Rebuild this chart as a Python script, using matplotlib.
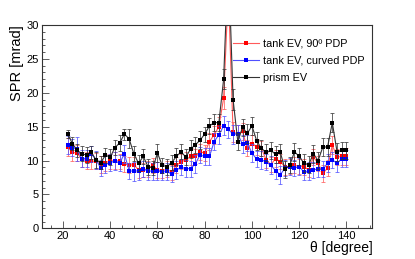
import numpy as np
import matplotlib.pyplot as plt
from matplotlib.ticker import MultipleLocator

plt.rcParams['font.family'] = ['Liberation Sans', 'DejaVu Sans']

# polar angle bins [degree]
theta = [22, 24, 26, 28, 30, 32, 34, 36, 38, 40, 42, 44, 46, 48, 50, 52, 54, 56, 58, 60,
         62, 64, 66, 68, 70, 72, 74, 76, 78, 80, 82, 84, 86, 88, 90, 92, 94, 96, 98, 100,
         102, 104, 106, 108, 110, 112, 114, 116, 118, 120, 122, 124, 126, 128, 130, 132, 134, 136, 138, 140]

# tank EV, 90 deg PDP
spr_tank90 = [12.0, 11.2, 11.1, 10.2, 10.0, 9.9, 9.9, 9.4, 9.7, 9.9, 10.0, 9.9, 9.5, 9.3, 9.4, 8.6, 8.6, 8.8, 9.3, 8.6,
              8.5, 8.7, 8.3, 9.3, 9.8, 10.1, 10.6, 10.6, 11.3, 11.1, 12.8, 13.8, 15.0, 19.2, 35.0, 14.2, 13.9, 14.3, 11.8, 12.5,
              12.0, 11.8, 10.1, 9.4, 10.3, 9.8, 9.1, 9.1, 9.3, 9.1, 9.1, 8.6, 10.5, 9.6, 8.1, 8.9, 12.3, 10.5, 10.6, 10.6]
err_tank90 = [1.3, 1.2, 1.2, 1.1, 1.2, 1.1, 1.2, 1.3, 1.2, 1.1, 1.2, 1.1, 1.2, 1.2, 1.1, 1.2, 1.1, 1.2, 1.1, 1.2,
              1.1, 1.2, 1.1, 1.2, 1.1, 1.2, 1.2, 1.1, 1.2, 1.2, 1.3, 1.3, 1.4, 1.6, 2.5, 1.5, 1.3, 1.3, 1.2, 1.2,
              1.2, 1.1, 1.2, 1.1, 1.2, 1.1, 1.2, 1.1, 1.2, 1.1, 1.2, 1.1, 1.2, 1.1, 1.2, 1.2, 1.3, 1.2, 1.2, 1.2]

# tank EV, curved PDP
spr_tankcurved = [12.3, 11.9, 11.7, 10.3, 10.3, 11.0, 10.1, 8.9, 9.4, 9.7, 9.9, 9.6, 11.0, 8.5, 8.4, 8.5, 8.7, 8.5, 8.4, 8.5,
                  8.3, 8.4, 8.0, 8.6, 9.0, 8.8, 8.8, 9.5, 10.8, 10.6, 10.6, 12.8, 13.8, 15.1, 14.6, 13.9, 13.9, 12.4, 12.6, 11.1,
                  10.2, 10.1, 9.8, 9.3, 8.5, 7.9, 8.9, 9.1, 8.9, 9.1, 8.3, 8.5, 8.6, 8.8, 8.7, 9.6, 10.1, 9.6, 10.3, 10.3]
err_tankcurved = [1.3, 1.3, 1.8, 1.2, 1.3, 1.2, 1.3, 1.2, 1.3, 1.2, 1.3, 1.2, 1.3, 1.2, 1.4, 1.3, 1.2, 1.3, 1.2, 1.3,
                  1.2, 1.3, 1.2, 1.3, 1.2, 1.3, 1.2, 1.3, 1.2, 1.3, 1.2, 1.3, 1.3, 1.4, 1.3, 1.4, 1.3, 1.3, 1.2, 1.3,
                  1.2, 1.3, 1.2, 1.3, 1.2, 1.3, 1.2, 1.3, 1.2, 1.3, 1.2, 1.3, 1.2, 1.3, 1.2, 1.3, 1.2, 1.3, 1.2, 1.2]

# prism EV
spr_prism = [13.9, 12.5, 11.5, 11.0, 10.8, 11.2, 10.1, 9.7, 10.8, 10.5, 11.9, 12.6, 13.9, 13.2, 11.0, 9.6, 10.6, 9.1, 8.9, 11.1,
             9.3, 9.1, 9.7, 10.6, 11.3, 10.5, 11.7, 12.3, 13.0, 13.9, 15.1, 15.6, 15.6, 22.0, 40.0, 19.0, 12.8, 14.9, 14.0, 15.1,
             12.9, 11.8, 11.2, 11.5, 10.9, 11.2, 8.7, 9.3, 11.3, 10.6, 9.6, 9.4, 11.0, 10.0, 12.0, 12.0, 15.6, 11.3, 11.5, 11.5]
err_prism = [0.6, 0.9, 1.0, 1.1, 1.2, 1.0, 1.2, 1.0, 1.1, 1.2, 1.1, 1.2, 0.8, 1.4, 1.1, 1.2, 1.1, 1.2, 1.0, 1.3,
             1.1, 1.2, 1.1, 1.2, 1.1, 1.2, 1.3, 1.2, 1.3, 1.1, 1.2, 1.3, 1.3, 1.5, 3.0, 1.6, 1.2, 1.3, 1.4, 1.3,
             1.3, 1.2, 1.3, 1.2, 1.3, 1.2, 1.3, 1.2, 1.3, 1.2, 1.3, 1.2, 1.3, 1.2, 1.3, 1.3, 1.4, 1.3, 1.2, 1.2]

fig = plt.figure(figsize=(4.15, 2.59), dpi=100)
ax = fig.add_axes([0.1005, 0.1185, 0.797, 0.785])

series = [
    (spr_tank90, err_tank90, '#ff0000', '#ff5a5a', 'tank EV, 90º PDP'),
    (spr_tankcurved, err_tankcurved, '#0000ff', '#5050ff', 'tank EV, curved PDP'),
    (spr_prism, err_prism, '#000000', '#333333', 'prism EV'),
]
for vals, errs, mcol, lcol, lab in series:
    ax.errorbar(theta, vals, yerr=errs, fmt='none', ecolor=lcol, elinewidth=0.7,
                capsize=1.2, capthick=0.7, alpha=0.75)
    ax.plot(theta, vals, color=lcol, lw=0.8, marker='s', ms=2.8, mew=0,
            mfc=mcol, label=lab)

ax.set_xlim(11, 151)
ax.set_ylim(0, 30)
ax.xaxis.set_major_locator(MultipleLocator(20))
ax.xaxis.set_minor_locator(MultipleLocator(5))
ax.yaxis.set_major_locator(MultipleLocator(5))
ax.yaxis.set_minor_locator(MultipleLocator(1))
ax.tick_params(which='both', direction='in', top=False, right=False,
               labelsize=8, color='#444444', pad=2)
ax.tick_params(which='major', length=5, width=0.6)
ax.tick_params(which='minor', length=2.5, width=0.6)
for s in ax.spines.values():
    s.set_linewidth(0.8)
    s.set_color('#333333')

ax.set_xlabel('θ [degree]', fontsize=10, loc='right', labelpad=0)
ax.set_ylabel('SPR [mrad]', fontsize=10.5, loc='top', labelpad=2)

leg = ax.legend(loc='upper right', bbox_to_anchor=(1.0, 0.97), frameon=False,
                fontsize=7.8, handlelength=2.4, handletextpad=0.4,
                labelspacing=0.65, borderaxespad=0.3)

fig.savefig('out.png', dpi=100)
